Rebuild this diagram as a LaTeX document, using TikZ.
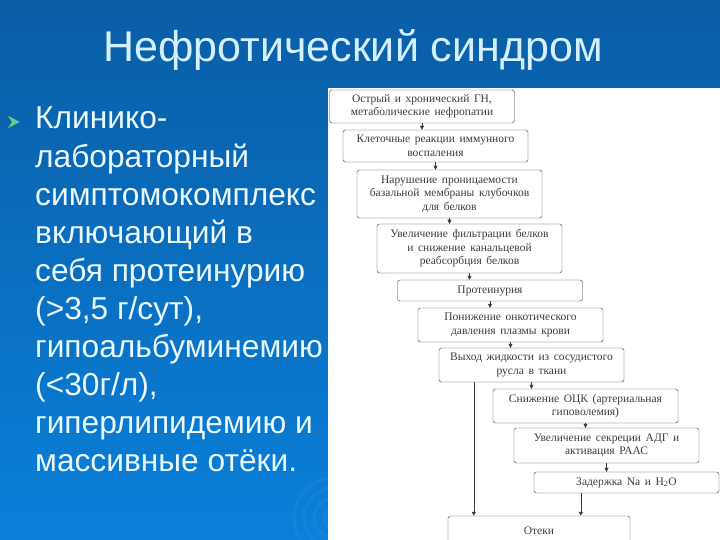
\documentclass[tikz,border=0pt]{standalone}
\usepackage{fontspec}
\setmainfont{Liberation Sans}
\newfontfamily\scanfont[WordSpace=1.6]{Liberation Serif}
\usetikzlibrary{arrows.meta}
\definecolor{slideTop}{HTML}{0A5DA5}
\definecolor{slideBottom}{HTML}{0A80DA}
\definecolor{slideText}{HTML}{EAF8FF}
\definecolor{titleText}{HTML}{D2F0FF}
\definecolor{bulletGreen}{HTML}{7CD35A}
\definecolor{bulletCyan}{HTML}{3FC6D8}
\definecolor{scanInk}{HTML}{3C3C3C}

\tikzset{
  stage/.style={draw=scanInk, rounded corners=2.5pt, fill=white, text=scanInk,
    font=\scanfont\fontsize{11.5}{13.5}\selectfont,
    align=center, minimum width=185pt, inner sep=1pt},
  flow/.style={scanInk, -{Triangle[length=4pt,width=4pt]}},
  slideline/.style={anchor=base west, inner sep=0pt, text=slideText,
    font=\fontsize{31.7}{36}\selectfont},
}

\begin{document}
\begin{tikzpicture}[x=1pt, y=-1pt]
% ---------- slide background ----------
\clip (0,0) rectangle (720,540);
\shade[top color=slideTop, bottom color=slideBottom] (0,0) rectangle (720,540);
\foreach \r in {10,20,30,40}
  \draw[white, opacity=0.04, line width=3pt] (334,518) circle (\r pt);
\node[text=titleText, font=\fontsize{43}{50}\selectfont] (title) at (353,50)
  {Нефротический синдром};
% ---------- bullet text ----------
\shade[left color=bulletGreen, right color=bulletCyan]
  (8,116) -- (20,122) -- (8,128) -- (12,122) -- cycle;
\foreach \txt [count=\i] in {Клинико-, лабораторный, симптомокомплекс,
    включающий в, себя протеинурию, {(>3,5 г/сут),}, гипоальбуминемию,
    {(<30г/л),}, гиперлипидемию и, массивные отёки.}
  \node[slideline] (line\i) at (35,{129+38.1*(\i-1)}) {\txt};
% ---------- scanned scheme ----------
\fill[white] (328,88) rectangle (720,540);
\node[stage, minimum height=33pt] (b1) at (422,106.5)
  {Острый и хронический ГН,\\метаболические нефропатии};
\node[stage, minimum height=32pt] (b2) at (435.5,146)
  {Клеточные реакции иммунного\\воспаления};
\node[stage, minimum height=48pt] (b3) at (449.5,194)
  {Нарушение проницаемости\\базальной мембраны клубочков\\для белков};
\node[stage, minimum height=49pt] (b4) at (469.5,248.5)
  {Увеличение фильтрации белков\\и снижение канальцевой\\реабсорбция белков};
\node[stage, minimum height=21pt] (b5) at (490,290.5) {Протеинурия};
\node[stage, minimum height=34pt] (b6) at (510.5,325)
  {Понижение онкотического\\давления плазмы крови};
\node[stage, minimum height=34pt] (b7) at (531.5,365)
  {Выход жидкости из сосудистого\\русла в ткани};
\node[stage, minimum height=34pt] (b8) at (585.5,406)
  {Снижение ОЦК (артериальная\\гиповолемия)};
\node[stage, minimum height=35pt] (b9) at (606.5,445.5)
  {Увеличение секреции АДГ и\\активация РААС};
\node[stage, minimum height=21pt] (b10) at (626.5,482.5)
  {Задержка Na и H\textsubscript{2}O};
\node[stage, minimum width=182pt, minimum height=30pt] (b11) at (539,531)
  {Отеки};
% arrows down the chain
\foreach \a/\b in {b1/b2, b2/b3, b3/b4, b4/b5, b5/b6, b6/b7, b7/b8, b8/b9, b9/b10}
  \draw[flow] (\a.south) -- (\a.south |- \b.north);
\coordinate (leak) at ([xshift=35pt]b7.south west);
\coordinate (retain) at ([xshift=47pt]b10.south west);
\draw[flow] (leak) -- (leak |- b11.north);
\draw[flow] (retain) -- (retain |- b11.north);
\end{tikzpicture}
\end{document}
